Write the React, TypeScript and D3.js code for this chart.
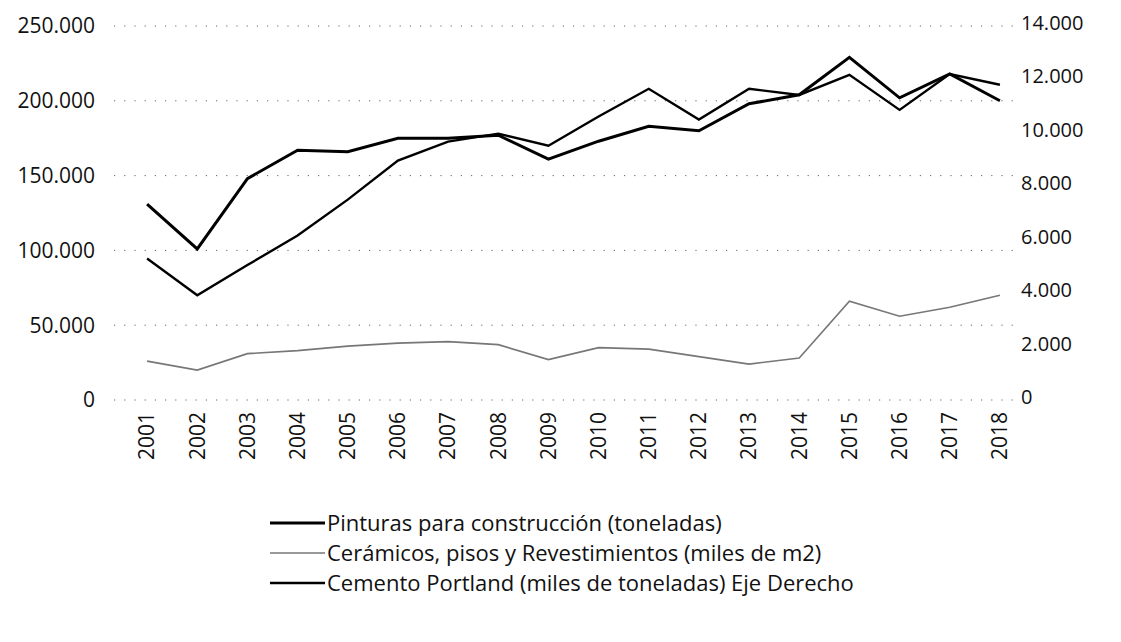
import { useEffect, useRef } from 'react';
import * as d3 from 'd3';

const years = ['2001', '2002', '2003', '2004', '2005', '2006', '2007', '2008', '2009', '2010', '2011', '2012', '2013', '2014', '2015', '2016', '2017', '2018'];
// left axis
const pinturas = [131000, 101000, 148000, 167000, 166000, 175000, 175000, 177000, 161000, 173000, 183000, 180000, 198000, 204000, 229000, 202000, 218000, 200000];
const ceramicos = [26000, 20000, 31000, 33000, 36000, 38000, 39000, 37000, 27000, 35000, 34000, 29000, 24000, 28000, 66000, 56000, 62000, 70000];
// right axis
const cemento = [5300, 3920, 5050, 6160, 7500, 8960, 9670, 9970, 9520, 10610, 11650, 10500, 11650, 11420, 12170, 10860, 12200, 11800];

const leftTicks = [0, 50000, 100000, 150000, 200000, 250000];
const rightTicks = [0, 2000, 4000, 6000, 8000, 10000, 12000, 14000];

const legendItems = [
  { label: 'Pinturas para construcción (toneladas)', color: '#000', width: 3 },
  { label: 'Cerámicos, pisos y Revestimientos (miles de m2)', color: '#777', width: 1.6 },
  { label: 'Cemento Portland (miles de toneladas) Eje Derecho', color: '#000', width: 2.4 },
];

const fmt = (v: number) => v === 0 ? '0' : d3.format(',')(v).replace(/,/g, '.');

const App = () => {
  const ref = useRef<SVGSVGElement>(null);
  const width = 1121;
  const height = 642;
  const plotLeft = 122;
  const plotRight = 1025;
  const plotTop = 26;
  const plotBottom = 400;
  const font = '"Open Sans", sans-serif';

  useEffect(() => {
    const svg = d3.select(ref.current);
    svg.selectAll('*').remove();

    const x = d3.scalePoint().domain(years).range([plotLeft, plotRight]).padding(0.5);
    const yL = d3.scaleLinear().domain([0, 250000]).range([plotBottom, plotTop]);
    const yR = d3.scaleLinear().domain([0, 14000]).range([plotBottom, plotTop]);

    // dotted gridlines
    svg.append('g')
      .selectAll('line')
      .data(leftTicks)
      .join('line')
      .attr('x1', plotLeft - 8)
      .attr('x2', plotRight - 12)
      .attr('y1', d => yL(d))
      .attr('y2', d => yL(d))
      .attr('stroke', '#666')
      .attr('stroke-width', 1)
      .attr('stroke-dasharray', '1.2 9');

    // left axis labels
    svg.append('g')
      .selectAll('text')
      .data(leftTicks)
      .join('text')
      .attr('x', 95)
      .attr('y', d => yL(d))
      .attr('dy', '0.35em')
      .attr('text-anchor', 'end')
      .attr('font-family', font)
      .attr('font-size', 21)
      .attr('fill', '#111')
      .text(d => fmt(d));

    // right axis labels
    svg.append('g')
      .selectAll('text')
      .data(rightTicks)
      .join('text')
      .attr('x', 1021)
      .attr('y', d => yR(d) - 3)
      .attr('dy', '0.35em')
      .attr('text-anchor', 'start')
      .attr('font-family', font)
      .attr('font-size', 20)
      .attr('fill', '#111')
      .text(d => fmt(d));

    // x labels
    svg.append('g')
      .selectAll('text')
      .data(years)
      .join('text')
      .attr('transform', d => `translate(${x(d)},${plotBottom + 12}) rotate(-90)`)
      .attr('dy', '0.35em')
      .attr('text-anchor', 'end')
      .attr('font-family', font)
      .attr('font-size', 21)
      .attr('fill', '#111')
      .text(d => d);

    const lineL = d3.line<number>().x((_, i) => x(years[i])!).y(d => yL(d));
    const lineR = d3.line<number>().x((_, i) => x(years[i])!).y(d => yR(d));

    svg.append('path').datum(ceramicos).attr('d', lineL).attr('fill', 'none')
      .attr('stroke', legendItems[1].color).attr('stroke-width', legendItems[1].width);
    svg.append('path').datum(cemento).attr('d', lineR).attr('fill', 'none')
      .attr('stroke', legendItems[2].color).attr('stroke-width', legendItems[2].width);
    svg.append('path').datum(pinturas).attr('d', lineL).attr('fill', 'none')
      .attr('stroke', legendItems[0].color).attr('stroke-width', legendItems[0].width);

    // legend
    const legend = svg.append('g')
      .selectAll('g')
      .data(legendItems)
      .join('g')
      .attr('transform', (_, i) => `translate(270,${523 + i * 30})`);
    legend.append('line')
      .attr('x1', 0).attr('x2', 55)
      .attr('stroke', d => d.color)
      .attr('stroke-width', d => d.width);
    legend.append('text')
      .attr('x', 57)
      .attr('dy', '0.35em')
      .attr('font-family', font)
      .attr('font-size', 22)
      .attr('fill', '#111')
      .text(d => d.label);
  }, []);

  return (
    <svg
      ref={ref}
      width={width}
      height={height}
      viewBox={`0 0 ${width} ${height}`}
      style={{ position: 'absolute', left: 0, top: 0, background: '#fff' }}
    />
  );
};

export default App;
